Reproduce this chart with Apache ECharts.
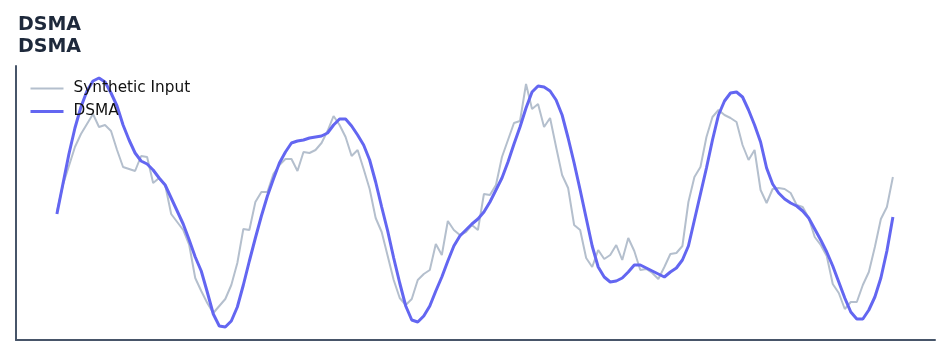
<!DOCTYPE html>
<html>
<head>
<meta charset="utf-8">
<script src="https://cdn.jsdelivr.net/npm/echarts@6/dist/echarts.min.js"></script>
<style>html,body{margin:0;padding:0;background:#fff;}#chart{width:951px;height:356px;}</style>
</head>
<body>
<div id="chart"></div>
<script>
var titleText = 'DSMA';
var subtitleText = 'DSMA';
var seriesNames = ['Synthetic Input', 'DSMA'];

var inputValues = [128,155,174,193,206,216,226,213,215,209,190,173,171,169,184,183,157,162,155,126,
118,110,95,62,49,37,27,34,41,55,77,111,110,138,148,148,166,175,181,181,
169,188,187,190,197,209,224,215,203,184,190,171,151,122,108,84,60,42,35,41,
60,66,70,96,85,119,110,105,108,115,110,146,145,155,183,200,217,219,256,231,
236,213,222,193,165,152,115,110,82,73,90,81,85,95,80,102,89,70,71,67,
61,73,86,87,94,138,163,173,203,223,230,225,222,218,195,180,190,150,137,151,
152,151,147,135,133,122,103,95,84,56,47,31,38,38,55,68,93,121,133,163];

var dsmaValues = [126,156,186,212,233,249,259,262,258,247,234,215,200,187,179,176,170,162,155,142,
129,116,100,83,69,48,26,14,13,19,33,55,79,102,124,144,161,177,188,197,
199,200,202,203,204,207,215,221,221,214,205,195,180,158,133,109,82,57,34,20,
18,24,34,49,63,79,94,104,110,116,121,128,138,150,162,178,196,213,232,248,
254,253,249,240,225,202,177,150,122,94,73,63,58,59,62,68,75,75,72,69,
66,63,68,72,80,94,120,146,172,200,225,239,247,248,243,230,215,198,172,156,
147,141,137,134,129,122,111,100,88,74,58,42,28,21,21,30,43,62,89,123];

function pairs(vals){ return vals.map(function(v,i){ return [i, v]; }); }

var chart = echarts.init(document.getElementById('chart'), null, {renderer:'canvas'});
chart.setOption({
  animation: false,
  backgroundColor: '#ffffff',
  title: {
    text: titleText + '\n' + subtitleText,
    left: 18, top: 14, padding: 0,
    textStyle: { fontFamily: 'DejaVu Sans', fontWeight: 'bold', fontSize: 19, lineHeight: 22, color: '#1e293b' }
  },
  legend: {
    orient: 'vertical',
    left: 29, top: 81, padding: 0,
    itemWidth: 33, itemHeight: 14, itemGap: 8,
    itemStyle: { opacity: 0 },
    textStyle: { fontFamily: 'DejaVu Sans', fontSize: 15.3, color: '#111111', padding: [0,0,0,5] },
    data: [
      { name: seriesNames[0], lineStyle: { width: 2, color: '#b4bfcd' } },
      { name: seriesNames[1], lineStyle: { width: 3, color: '#6366f1' } }
    ]
  },
  grid: { left: 16, right: 16, top: 66, bottom: 16, containLabel: false },
  xAxis: {
    type: 'value', min: -6.8, max: 146,
    axisLine: { show: true, onZero: false, lineStyle: { color: '#475569', width: 2 } },
    axisTick: { show: false }, axisLabel: { show: false }, splitLine: { show: false }
  },
  yAxis: {
    type: 'value', min: 0, max: 274,
    axisLine: { show: true, onZero: false, lineStyle: { color: '#475569', width: 2 } },
    axisTick: { show: false }, axisLabel: { show: false }, splitLine: { show: false }
  },
  series: [
    { name: seriesNames[0], type: 'line', data: pairs(inputValues), symbol: 'none', showSymbol: false,
      lineStyle: { color: '#b4bfcd', width: 2 }, itemStyle: { color: '#b4bfcd' }, z: 1 },
    { name: seriesNames[1], type: 'line', data: pairs(dsmaValues), symbol: 'none', showSymbol: false,
      lineStyle: { color: '#6366f1', width: 3 }, itemStyle: { color: '#6366f1' }, z: 2 }
  ]
});
</script>
</body>
</html>
